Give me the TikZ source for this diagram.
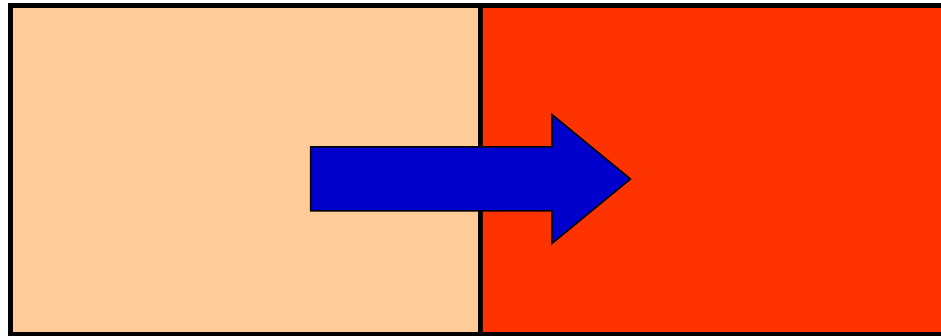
\documentclass[tikz,border=0pt]{standalone}
\usepackage{tikz}
\usetikzlibrary{positioning,calc}

\definecolor{peach}{HTML}{FFCC99}
\definecolor{hotred}{HTML}{FF3300}
\definecolor{arrowblue}{HTML}{0000CC}

\begin{document}
\begin{tikzpicture}[
            x=1pt, y=-1pt,
            panel/.style={
                draw=black,
                line width=5pt,
                inner sep=0pt,
                outer sep=0pt,
                minimum width=470pt,
                minimum height=328.5pt,
                anchor=north west
            },
            flowarrow/.style={
                draw=black,
                fill=arrowblue,
                line width=1.5pt,
                line join=miter
            }
        ]
        \useasboundingbox (0,0) rectangle (941,336);
        % the two panels
        \node[panel, fill=hotred] (right) at (480,5.5) {};
        \node[panel, fill=peach] (left) at (10,5.5) {};
        % the big arrow across the border
        \coordinate (tail) at (310.5,179);
        \coordinate (tip) at (630.5,179);
        \draw[flowarrow] ($(tail)+(0,-32)$) -- (552,147) -- (552,114.5) -- (tip)
            -- (552,243.5) -- (552,211) -- ($(tail)+(0,32)$) -- cycle;
    \end{tikzpicture}
\end{document}
